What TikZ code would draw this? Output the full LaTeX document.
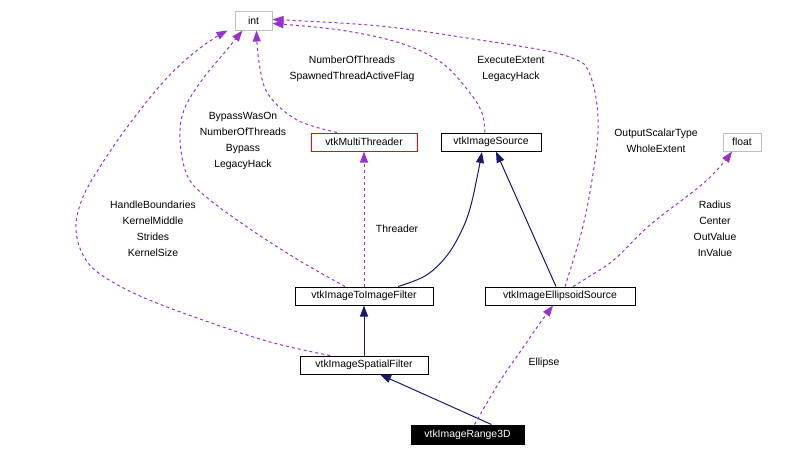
\documentclass[tikz,border=0pt]{standalone}
\usepackage{fontspec}
\setmainfont{Liberation Sans}
\usetikzlibrary{arrows.meta}
\definecolor{depc}{HTML}{9A32CD}
\definecolor{inhc}{HTML}{191970}
\definecolor{extc}{HTML}{BFBFBF}
\begin{document}
\begin{tikzpicture}[x=1pt,y=-1pt,
  cls/.style={draw=black, fill=white, inner sep=0pt, minimum height=18pt, line width=1pt, font=\fontsize{10.4}{12}\selectfont},
  extcls/.style={cls, draw=extc},
  lbl/.style={align=center, inner sep=0pt, font=\fontsize{10.4}{16}\selectfont},
  usage/.style={draw=depc, line width=1pt, dash pattern=on 3pt off 3pt, -{Triangle[length=11pt,width=8pt,fill=depc]}},
  inherit/.style={draw=inhc, line width=1pt, -{Triangle[length=11pt,width=8pt,fill=inhc]}}]
\useasboundingbox (0,0) rectangle (809,456);
% nodes
\node[extcls, minimum width=37pt, minimum height=19pt] (int) at (253.5,20.5) {int};
\node[cls, draw=red, minimum width=106pt] (mt) at (364,142) {vtkMultiThreader};
\node[cls, minimum width=100pt] (src) at (491,142) {vtkImageSource};
\node[extcls, minimum width=38pt] (float) at (742,142) {float};
\node[cls, minimum width=138pt] (i2i) at (364,296) {vtkImageToImageFilter};
\node[cls, minimum width=150pt] (ell) at (560,296) {vtkImageEllipsoidSource};
\node[cls, minimum width=128pt] (spat) at (364,365) {vtkImageSpatialFilter};
\node[cls, fill=black, text=white, minimum width=113pt, minimum height=19pt] (r3d) at (467.5,434.5) {vtkImageRange3D};
% inheritance
\draw[inherit] (spat.north) -- (i2i.south);
\draw[inherit] ([xshift=24pt]r3d.north) -- ([xshift=16pt]spat.south);
\draw[inherit] ([xshift=-4pt]ell.north) -- ([xshift=5pt]src.south);
\draw[inherit] plot[smooth, tension=0.6] coordinates {([xshift=34pt]i2i.north) (425,276) (445,258) (460,234) (471,205) (482,152)};
% usage
\draw[usage] (i2i.north) -- (mt.south);
\draw[usage] plot[smooth, tension=0.5] coordinates {([xshift=7pt]r3d.north) (500,381) (520,352) (540,323) ([xshift=-7pt]ell.south)};
\draw[usage] plot[smooth, tension=0.6] coordinates {([xshift=-34pt]spat.north) (270,342) (200,319) (140,296) (100,274) (83,255) (76,230) (80,205) (93,178) (125,130) (165,80) (200,48) ([xshift=-26pt]int.south)};
\draw[usage] plot[smooth, tension=0.6] coordinates {([xshift=-19pt]i2i.north) (300,261) (250,229) (205,196) (187,175) (180,140) (184,110) (202,80) (225,52) ([xshift=-11pt]int.south)};
\draw[usage] plot[smooth, tension=0.6] coordinates {([xshift=-27pt]mt.north) (297,120) (268,94) (259,62) ([xshift=3pt]int.south)};
\draw[usage] plot[smooth, tension=0.6] coordinates {([xshift=-6pt]src.north) (482,113) (470,93) (442,63) (400,43) (340,30) ([yshift=-3pt]int.east)};
\draw[usage] plot[smooth, tension=0.6] coordinates {([xshift=5pt]ell.north) (582,230) (592,180) (598,133) (596,98) (588,70) (577,60) (547,51) (480,40) (380,26) ([yshift=1pt]int.east)};
\draw[usage] plot[smooth, tension=0.6] coordinates {([xshift=13pt]ell.north) (590,276) (615,259) (650,225) (706,181) ([xshift=-10pt]float.south)};
% labels
\node[lbl] (l1) at (352,69) {NumberOfThreads\\SpawnedThreadActiveFlag};
\node[lbl] (l2) at (243,141) {BypassWasOn\\NumberOfThreads\\Bypass\\LegacyHack};
\node[lbl] (l3) at (511,69) {ExecuteExtent\\LegacyHack};
\node[lbl] (l4) at (656,141) {OutputScalarType\\WholeExtent};
\node[lbl] (l5) at (153,229) {HandleBoundaries\\KernelMiddle\\Strides\\KernelSize};
\node[lbl] (l6) at (397,229) {Threader};
\node[lbl] (l7) at (715,229) {Radius\\Center\\OutValue\\InValue};
\node[lbl] (l8) at (544,363) {Ellipse};
\end{tikzpicture}
\end{document}
